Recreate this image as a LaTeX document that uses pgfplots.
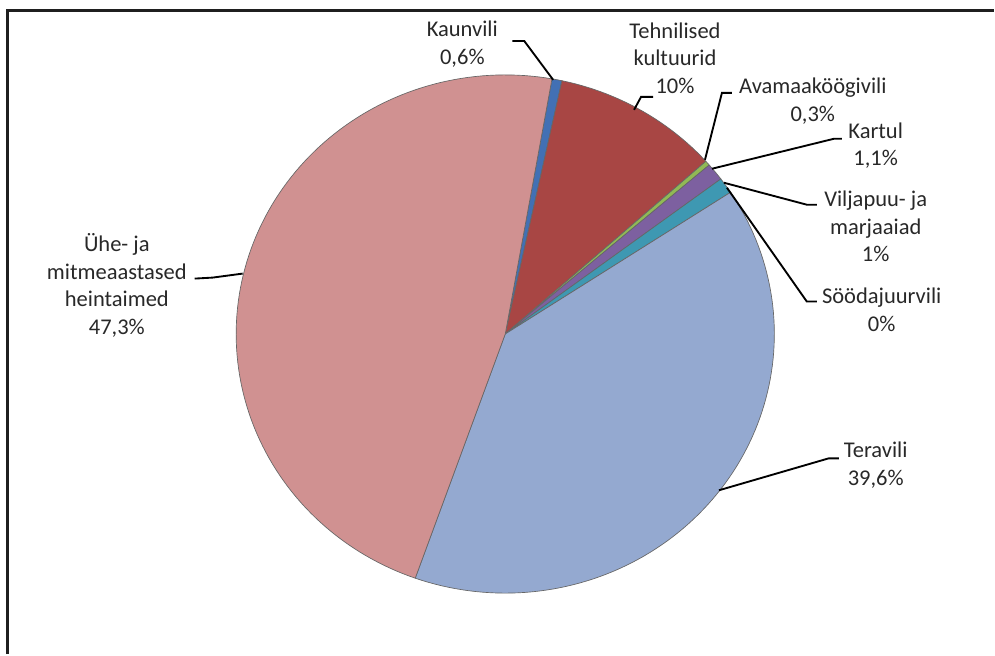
\documentclass[border=0pt]{standalone}
\usepackage{fontspec}
\setmainfont{Carlito}
\usepackage{pgfplots}
\usepackage{pgfplotstable}
\pgfplotsset{compat=1.18}

\definecolor{cKaun}{RGB}{66,112,180}
\definecolor{cTehn}{RGB}{168,70,68}
\definecolor{cAvam}{RGB}{145,185,85}
\definecolor{cKart}{RGB}{125,96,160}
\definecolor{cVilj}{RGB}{62,152,178}
\definecolor{cSood}{RGB}{247,150,70}
\definecolor{cTera}{RGB}{148,169,208}
\definecolor{cHein}{RGB}{208,145,145}
\definecolor{labtext}{RGB}{40,40,40}

\pgfplotstableread[col sep=comma]{
name,value,col
Kaunvili,0.6,cKaun
Tehnilised kultuurid,10,cTehn
Avamaakoogivili,0.3,cAvam
Kartul,1.1,cKart
Viljapuu- ja marjaaiad,1,cVilj
Soodajuurvili,0,cSood
Teravili,39.6,cTera
Heintaimed,47.3,cHein
}\piedata

\newcommand\lab{\fontsize{16.9}{20.7}\selectfont}

\begin{document}
\begin{tikzpicture}
\begin{axis}[
  width=746.25pt, height=491.25pt, scale only axis,
  xmin=0, xmax=995, ymin=0, ymax=655, y dir=reverse,
  hide axis, clip=false,
]
\path (axis cs:0,0) rectangle (axis cs:995,655);
% frame
\draw[line width=2.2pt, black!88] (axis cs:7.5,655) -- (axis cs:7.5,10.5) -- (axis cs:995,10.5);

\def\total{0}
\pgfplotsforeachungrouped \i in {0,...,7}{%
  \pgfplotstablegetelem{\i}{value}\of\piedata
  \pgfmathsetmacro\total{\total+\pgfplotsretval}}
\def\cum{0}
\pgfplotsforeachungrouped \i in {0,...,7}{%
  \pgfplotstablegetelem{\i}{value}\of\piedata
  \let\sv\pgfplotsretval
  \pgfplotstablegetelem{\i}{col}\of\piedata
  \let\sc\pgfplotsretval
  \pgfmathsetmacro\sa{10+\cum/\total*360}
  \pgfmathsetmacro\sb{10+(\cum+\sv)/\total*360}
  \pgfmathsetmacro\cum{\cum+\sv}
  \pgfmathparse{\sv>0 ? 1 : 0}
  \ifdim\pgfmathresult pt>0.5pt
    \pgfmathtruncatemacro\ns{max(3,ceil((\sb-\sa)/1.5)+1)}
    \edef\doslice{\noexpand\addplot[fill=\sc, draw=black!60, line width=0.5pt, domain=\sa:\sb, samples=\ns, variable=\noexpand\t] ({506+269.5*sin(\noexpand\t)},{334.5-259.5*cos(\noexpand\t)}) -- (axis cs:506,334.5) -- cycle;}
    \doslice
  \fi
}

% leader lines
\begin{scope}[line width=1.4pt, black]
\draw (axis cs:513,41) -- (axis cs:525,41) -- (axis cs:554,80);
\draw (axis cs:654,97) -- (axis cs:642,97) -- (axis cs:635,110);
\draw (axis cs:733,93) -- (axis cs:723,93) -- (axis cs:706,160);
\draw (axis cs:843,139) -- (axis cs:835,139) -- (axis cs:713,169);
\draw (axis cs:818,205) -- (axis cs:808,205) -- (axis cs:725,183);
\draw (axis cs:818,302) -- (axis cs:808,302) -- (axis cs:728,188);
\draw (axis cs:840,459) -- (axis cs:830,459) -- (axis cs:720,491);
\draw (axis cs:195,279) -- (axis cs:213,278) -- (axis cs:243,274);
\end{scope}

% labels
\begin{scope}[every node/.style={align=center, text=labtext, font=\lab, inner sep=0pt}]
\node at (axis cs:463,44) {Kaunvili\\0,6\%};
\node at (axis cs:676,58) {Tehnilised\\kultuurid\\10\%};
\node at (axis cs:814,101) {Avamaaköögivili\\0,3\%};
\node at (axis cs:877,146) {Kartul\\1,1\%};
\node at (axis cs:877,227) {Viljapuu- ja\\marjaaiad\\1\%};
\node at (axis cs:883,310) {Söödajuurvili\\0\%};
\node at (axis cs:877,466) {Teravili\\39,6\%};
\node at (axis cs:117,286) {Ühe- ja\\mitmeaastased\\heintaimed\\47,3\%};
\end{scope}
\end{axis}
\end{tikzpicture}
\end{document}
